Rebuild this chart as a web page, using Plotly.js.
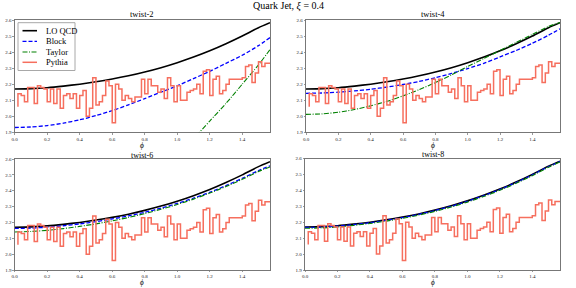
<!DOCTYPE html>
<html><head><meta charset="utf-8">
<script src="https://cdn.plot.ly/plotly-3.0.1.min.js"></script>
<style>html,body{margin:0;padding:0;background:#fff}#chart{width:576px;height:288px}</style>
</head><body><div id="chart"></div>
<script>
// ---- data ----
const panelTitles = ["twist-2", "twist-4", "twist-6", "twist-8"];
const seriesNames = ["LO QCD", "Block", "Taylor", "Pythia"];
const phi = [0, 0.1, 0.2, 0.3, 0.4, 0.5, 0.6, 0.7, 0.8, 0.9, 1.0, 1.1, 1.2, 1.3, 1.4, 1.5, 1.5708];
const loQCD  = [2.170, 2.172, 2.178, 2.188, 2.200, 2.215, 2.232, 2.252, 2.276, 2.303, 2.334, 2.369, 2.408, 2.452, 2.500, 2.552, 2.583];
const block2 = [1.930, 1.933, 1.942, 1.957, 1.978, 2.004, 2.035, 2.071, 2.110, 2.150, 2.190, 2.235, 2.280, 2.330, 2.380, 2.440, 2.490];
const taylor2Phi = [1.0, 1.1, 1.2, 1.3, 1.4, 1.5, 1.5708];
const taylor2 = [1.76, 1.86, 1.97, 2.08, 2.20, 2.32, 2.415];
const block4  = [2.143, 2.145, 2.150, 2.158, 2.168, 2.182, 2.198, 2.217, 2.240, 2.267, 2.297, 2.330, 2.370, 2.410, 2.455, 2.505, 2.545];
const taylor4 = [2.012, 2.015, 2.025, 2.042, 2.065, 2.093, 2.127, 2.166, 2.210, 2.258, 2.310, 2.360, 2.410, 2.460, 2.510, 2.560, 2.585];
const block6  = [2.162, 2.164, 2.170, 2.179, 2.191, 2.205, 2.222, 2.241, 2.264, 2.290, 2.320, 2.353, 2.390, 2.432, 2.478, 2.527, 2.557];
const taylor6 = [2.140, 2.143, 2.150, 2.161, 2.175, 2.191, 2.210, 2.231, 2.256, 2.283, 2.313, 2.347, 2.385, 2.426, 2.472, 2.521, 2.550];
const block8  = [2.167, 2.169, 2.175, 2.185, 2.197, 2.212, 2.229, 2.249, 2.273, 2.300, 2.331, 2.366, 2.405, 2.449, 2.497, 2.549, 2.581];
const taylor8 = [2.162, 2.164, 2.170, 2.180, 2.192, 2.207, 2.224, 2.244, 2.268, 2.295, 2.326, 2.361, 2.400, 2.444, 2.492, 2.545, 2.578];
const pythiaFirstEdge = 0.02;
const pythiaBinWidth = 0.02;
const pythiaStartLevel = 2.06;
const pythia = [
  2.14, 2.13, 2.09, 2.18, 2.18, 2.08, 2.19, 2.18, 2.17, 2.09,
  2.17, 2.08, 2.17, 2.05, 2.13, 2.14, 2.11, 2.14, 2.05, 2.13,
  2.16, 2.00, 2.05, 2.24, 2.07, 2.09, 2.13, 2.22, 2.19, 1.96,
  2.20, 2.17, 2.10, 2.13, 2.11, 2.09, 2.12, 2.12, 2.23, 2.14,
  2.23, 2.19, 2.19, 2.15, 2.17, 2.11, 2.24, 2.19, 2.09, 2.19,
  2.10, 2.10, 2.15, 2.16, 2.17, 2.20, 2.14, 2.28, 2.29, 2.13,
  2.23, 2.25, 2.14, 2.16, 2.20, 2.23, 2.23, 2.23, 2.23, 2.24,
  2.31, 2.32, 2.21, 2.27, 2.34, 2.31, 2.33
];
const xMax = Math.PI / 2;
const yTickVals = [1.9, 2.0, 2.1, 2.2, 2.3, 2.4, 2.5, 2.6];
const xTickVals = [0.0, 0.2, 0.4, 0.6, 0.8, 1.0, 1.2, 1.4];

// ---- styles ----
const FONT = '"Liberation Serif", "DejaVu Serif", serif';
const lineStyles = [
  {color: '#000000', width: 1.6},
  {color: '#0000ff', width: 1.3, dash: '4px,2px'},
  {color: '#008000', width: 1.1, dash: '5px,1.5px,1px,1.5px'},
  {color: '#f66f5e', width: 1.5},
];

// ---- build ----
const blocks = [block2, block4, block6, block8];
const taylors = [[taylor2Phi, taylor2], [phi, taylor4], [phi, taylor6], [phi, taylor8]];

const px = [pythiaFirstEdge], py = [pythiaStartLevel];
pythia.forEach((v, i) => { px.push(pythiaFirstEdge + i * pythiaBinWidth); py.push(v); });
px.push(xMax); py.push(pythia[pythia.length - 1]);

const traces = [];
for (let k = 0; k < 4; k++) {
  const xa = k === 0 ? 'x' : 'x' + (k + 1);
  const ya = k === 0 ? 'y' : 'y' + (k + 1);
  const sm = {shape: 'spline', smoothing: 0.6};
  traces.push({x: phi, y: loQCD, xaxis: xa, yaxis: ya, mode: 'lines', name: seriesNames[0],
    line: Object.assign({}, lineStyles[0], sm), showlegend: false});
  traces.push({x: phi, y: blocks[k], xaxis: xa, yaxis: ya, mode: 'lines', name: seriesNames[1],
    line: Object.assign({}, lineStyles[1], sm), showlegend: false});
  traces.push({x: taylors[k][0], y: taylors[k][1], xaxis: xa, yaxis: ya, mode: 'lines', name: seriesNames[2],
    line: Object.assign({}, lineStyles[2], sm), showlegend: false});
  traces.push({x: px, y: py, xaxis: xa, yaxis: ya, mode: 'lines', name: seriesNames[3],
    line: Object.assign({}, lineStyles[3], {shape: 'hv'}), showlegend: false});
}

const W = 576, H = 288;
const xDom = [[14.7 / W, 270 / W], [306 / W, 560 / W], [14.7 / W, 270 / W], [305 / W, 560 / W]];
const yDom = [[1 - 132.3 / H, 1 - 20 / H], [1 - 132.3 / H, 1 - 20 / H], [1 - 270.0 / H, 1 - 159 / H], [1 - 270.0 / H, 1 - 158.5 / H]];

const layout = {
  width: W, height: H,
  margin: {l: 0, r: 0, t: 0, b: 0},
  paper_bgcolor: '#ffffff', plot_bgcolor: '#ffffff',
  font: {family: FONT, color: '#000'},
  showlegend: false,
  annotations: [],
  shapes: [],
};
layout.annotations.push({text: 'Quark Jet, <i>ξ</i> = 0.4', xref: 'paper', yref: 'paper', x: 0.5, y: 1 - 6 / H,
  xanchor: 'center', yanchor: 'middle', showarrow: false, font: {family: FONT, size: 10}});
for (let k = 0; k < 4; k++) {
  const sfx = k === 0 ? '' : String(k + 1);
  const common = {
    showline: true, mirror: true, linecolor: '#555555', linewidth: 0.8,
    ticks: 'outside', ticklen: 1.5, tickwidth: 0.6, tickcolor: '#555555',
    showgrid: false, zeroline: false, tickfont: {family: FONT, size: 5, color: '#222'},
    fixedrange: true,
  };
  layout['xaxis' + sfx] = Object.assign({}, common, {domain: xDom[k], range: [0, xMax], tickvals: xTickVals,
    tickformat: '.1f', anchor: 'y' + sfx, ticklabelstandoff: 0});
  layout['yaxis' + sfx] = Object.assign({}, common, {domain: yDom[k], range: [1.9, 2.6], tickvals: yTickVals,
    tickformat: '.1f', anchor: 'x' + sfx, ticklabelstandoff: 0});
  const cx = (xDom[k][0] + xDom[k][1]) / 2;
  const topRow = k < 2;
  layout.annotations.push({text: panelTitles[k], xref: 'paper', yref: 'paper', x: cx,
    y: yDom[k][1] + (topRow ? 5.5 : 3.8) / H,
    xanchor: 'center', yanchor: 'middle', showarrow: false, borderpad: 0,
    font: {family: FONT, size: topRow ? 8.5 : 8}});
  if (topRow) {
    layout.annotations.push({text: '<i>ϕ</i>', xref: 'paper', yref: 'paper', x: cx, y: yDom[k][0] - 8.0 / H,
      xanchor: 'center', yanchor: 'top', showarrow: false, borderpad: 0, font: {family: FONT, size: 7.5}});
  } else {
    layout.annotations.push({text: '<i>ϕ</i>', xref: 'paper', yref: 'paper', x: cx, y: 0.2 / H,
      xanchor: 'center', yanchor: 'bottom', showarrow: false, borderpad: 0, font: {family: FONT, size: 7.2}});
  }
}

// ---- legend (drawn in first panel, upper left) ----
const lgL = 18, lgR = 75, lgT = 22.7, lgB = 70.5;
const X = v => v / W, Y = v => 1 - v / H;
layout.shapes.push({type: 'rect', xref: 'paper', yref: 'paper', x0: X(lgL), x1: X(lgR), y0: Y(lgB), y1: Y(lgT),
  fillcolor: 'rgba(255,255,255,0.85)', line: {color: '#a8a8a8', width: 1}, layer: 'above'});
const rowY = [30.7, 41.3, 52.0, 62.3];
seriesNames.forEach((name, i) => {
  layout.shapes.push({type: 'line', xref: 'paper', yref: 'paper', x0: X(22.5), x1: X(37), y0: Y(rowY[i]), y1: Y(rowY[i]),
    line: Object.assign({}, lineStyles[i]), layer: 'above'});
  layout.annotations.push({text: name, xref: 'paper', yref: 'paper', x: X(45), y: Y(rowY[i]),
    xanchor: 'left', yanchor: 'middle', showarrow: false, borderpad: 0, font: {family: FONT, size: 8.5, color: '#000'}});
});

Plotly.newPlot('chart', traces, layout, {staticPlot: true, displayModeBar: false});
</script>
</body></html>
